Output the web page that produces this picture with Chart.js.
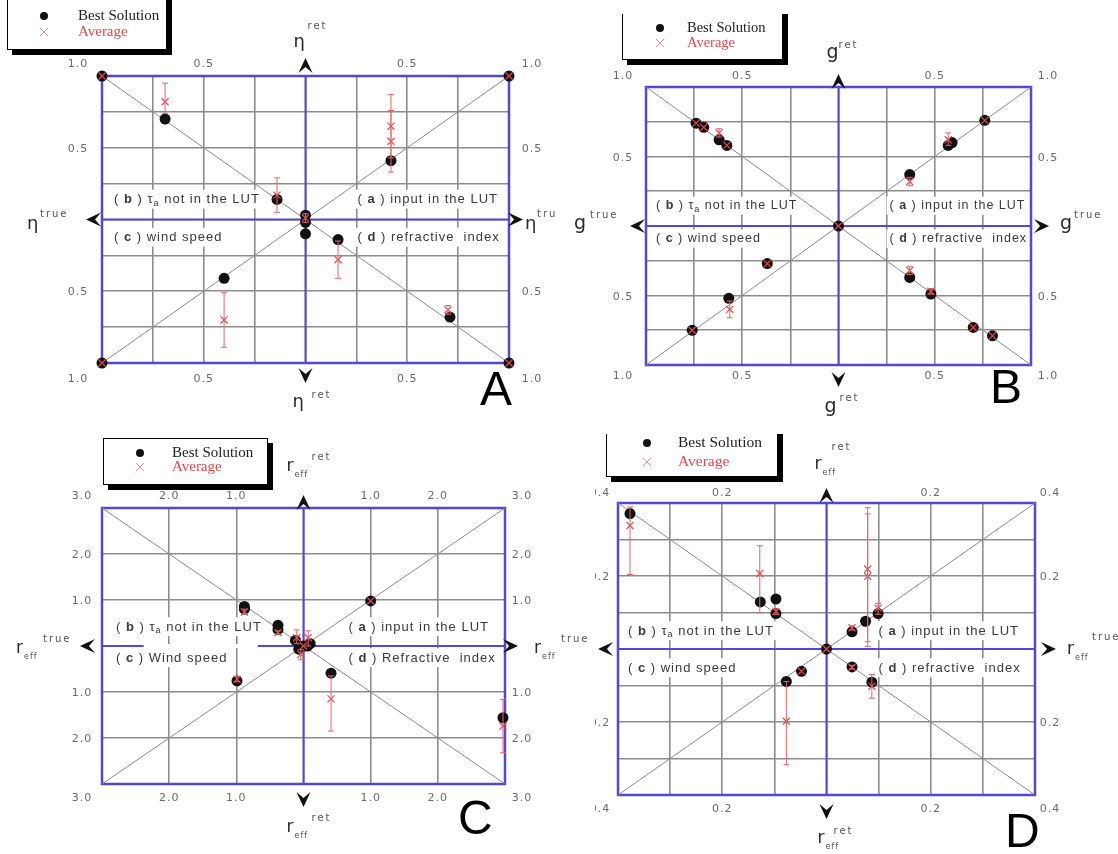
<!DOCTYPE html>
<html>
<head>
<meta charset="utf-8">
<script src="https://cdn.jsdelivr.net/npm/chart.js@4.4.1/dist/chart.umd.min.js"></script>
<style>
  body { margin: 0; background: #fff; }
  #page { position: relative; width: 1118px; height: 854px; overflow: hidden; background: #fff; }
  .panel { position: absolute; overflow: hidden; background: #fff; }
</style>
</head>
<body>
<div id="page">
  <div class="panel" style="left:0;top:0;width:556px;height:420px"><canvas id="chartA" width="556" height="420"></canvas></div>
  <div class="panel" style="left:556px;top:14px;width:562px;height:406px"><canvas id="chartB" width="562" height="406"></canvas></div>
  <div class="panel" style="left:0;top:420px;width:595px;height:434px"><canvas id="chartC" width="595" height="434"></canvas></div>
  <div class="panel" style="left:595px;top:434px;width:523px;height:420px"><canvas id="chartD" width="523" height="420"></canvas></div>
</div>
<script>
// ---------------- data ----------------
const seriesNames = ["Best Solution", "Average"];
const quadLetters = ["a", "b", "c", "d"];

// A : eta
const aTickVals = [-1, -0.5, 0.5, 1];
const aTickText = ["1.0", "0.5", "0.5", "1.0"];
const aQuadText = ["input in the LUT", "τ_a not in the LUT", "wind speed", "refractive  index"];
const aBestX = [-1, 1, -1, 1, -0.69, 0.42, -0.14, 0, 0, 0, 0.16, -0.40, 0.71];
const aBestY = [1, 1, -1, -1, 0.70, 0.41, 0.14, 0.03, -0.02, -0.10, -0.14, -0.41, -0.68];
const aAvgX = [-1, 1, -1, 1, -0.69, 0.42, 0.42, -0.14, 0, 0.16, -0.40, 0.70];
const aAvgY = [1, 1, -1, -1, 0.82, 0.65, 0.545, 0.17, 0.01, -0.28, -0.70, -0.63];
const aAvgLo = [1, 1, -1, -1, 0.74, 0.43, 0.33, 0.05, -0.02, -0.41, -0.89, -0.66];
const aAvgHi = [1, 1, -1, -1, 0.95, 0.87, 0.76, 0.29, 0.04, -0.15, -0.51, -0.60];

// B : g
const bTickVals = [-1, -0.5, 0.5, 1];
const bTickText = ["1.0", "0.5", "0.5", "1.0"];
const bQuadText = ["input in the LUT", "τ_a not in the LUT", "wind speed", "refractive  index"];
const bBestX = [-0.74, -0.70, -0.62, -0.58, 0.76, 0.57, 0.59, 0.37, 0, -0.37, -0.57, -0.76, 0.37, 0.48, 0.70, 0.80];
const bBestY = [0.74, 0.71, 0.62, 0.58, 0.76, 0.58, 0.60, 0.37, 0, -0.27, -0.52, -0.75, -0.37, -0.49, -0.73, -0.79];
const bAvgX = [-0.74, -0.70, -0.62, -0.58, 0.76, 0.57, 0.37, 0, -0.37, -0.565, -0.76, 0.37, 0.48, 0.70, 0.80];
const bAvgY = [0.74, 0.71, 0.67, 0.58, 0.76, 0.62, 0.32, 0, -0.27, -0.60, -0.75, -0.32, -0.47, -0.73, -0.79];
const bAvgLo = [0.74, 0.71, 0.64, 0.58, 0.76, 0.58, 0.29, 0, -0.27, -0.66, -0.75, -0.35, -0.49, -0.73, -0.79];
const bAvgHi = [0.74, 0.71, 0.70, 0.58, 0.76, 0.67, 0.35, 0, -0.27, -0.54, -0.75, -0.29, -0.45, -0.73, -0.79];

// C : r_eff (large)
const cTickVals = [-3, -2, -1, 1, 2, 3];
const cTickText = ["3.0", "2.0", "1.0", "1.0", "2.0", "3.0"];
const cQuadText = ["input in the LUT", "τ_a not in the LUT", "Wind speed", "Refractive  index"];
const cBestX = [-0.88, -0.88, -0.38, -0.38, -0.12, -0.07, 0, 0.06, 0.10, 1.0, -0.99, 0.41, 2.97];
const cBestY = [0.86, 0.80, 0.45, 0.36, 0.12, -0.07, 0, 0, 0.05, 0.98, -0.76, -0.59, -1.56];
const cAvgX = [-0.88, -0.38, -0.10, 0.07, -0.04, 0, -0.99, 0.41, 2.97, 1.0];
const cAvgY = [0.74, 0.29, 0.18, 0.18, -0.18, 0, -0.72, -1.15, -1.74, 0.98];
const cAvgLo = [0.70, 0.26, 0.05, 0.0, -0.30, 0, -0.78, -1.85, -2.32, 0.98];
const cAvgHi = [0.80, 0.33, 0.35, 0.33, -0.08, 0, -0.66, -0.65, -1.16, 0.98];

// D : r_eff (small)
const dTickVals = [-0.4, -0.2, 0.2, 0.4];
const dTickText = ["0.4", "0.2", "0.2", "0.4"];
const dQuadText = ["input in the LUT", "τ_a not in the LUT", "wind speed", "refractive  index"];
const dBestX = [-0.377, -0.127, -0.097, -0.097, 0.049, 0.075, 0.099, 0, -0.048, -0.077, 0.049, 0.087];
const dBestY = [0.371, 0.129, 0.137, 0.097, 0.047, 0.076, 0.097, 0, -0.061, -0.089, -0.049, -0.091];
const dAvgX = [-0.377, -0.128, -0.097, 0.079, 0.079, 0.099, 0.049, -0.077, 0.087, 0.049, -0.048, 0];
const dAvgY = [0.338, 0.207, 0.103, 0.219, 0.199, 0.112, 0.058, -0.198, -0.102, -0.05, -0.061, 0];
const dAvgLo = [0.204, 0.099, 0.095, 0.02, 0.007, 0.095, 0.052, -0.317, -0.135, -0.055, -0.061, 0];
const dAvgHi = [0.389, 0.283, 0.11, 0.37, 0.387, 0.125, 0.064, -0.089, -0.07, -0.045, -0.061, 0];

// ---------------- drawing ----------------
const BLUE = "#5646d6";
const GRID = "#8d8d8d";
const RED = "#e2484c";
const INK = "#111";

function dart(ctx, x, y, dir, len, half) {
    // x,y = tip
    const d = { up: [0, 1], down: [0, -1], left: [1, 0], right: [-1, 0] }[dir];
    const px = -d[1], py = d[0];
    ctx.beginPath();
    ctx.moveTo(x, y);
    ctx.lineTo(x + d[0] * len + px * half, y + d[1] * len + py * half);
    ctx.lineTo(x + d[0] * len * 0.6, y + d[1] * len * 0.6);
    ctx.lineTo(x + d[0] * len - px * half, y + d[1] * len - py * half);
    ctx.closePath();
    ctx.fill();
}

function quadLabel(ctx, x, y, letter, text, size) {
    const f = size + 'px "Liberation Sans"';
    const fs = Math.round(size * 0.7) + 'px "Liberation Sans"';
    const segs = [["( ", f, 0], [letter, "bold " + f, 0], [" ) ", f, 0]];
    text.split(/_(.)/).forEach((s, i) => {
        if (s) segs.push([s, i % 2 ? fs : f, i % 2 ? 4 : 0]);
    });
    ctx.letterSpacing = "1px";
    let w = 0;
    segs.forEach((s) => { ctx.font = s[1]; w += ctx.measureText(s[0]).width; });
    ctx.fillStyle = "#fff";
    ctx.fillRect(x - 3, y - size * 0.75, w + 6, size * 1.45);
    ctx.fillStyle = "#3a3a3a";
    ctx.textAlign = "left";
    ctx.textBaseline = "middle";
    let xx = x;
    segs.forEach((s) => {
        ctx.font = s[1];
        ctx.fillText(s[0], xx, y + s[2]);
        xx += ctx.measureText(s[0]).width;
    });
    ctx.letterSpacing = "0px";
}

function axisTitle(ctx, c, ax, ay, off, supText) {
    ctx.textAlign = "left";
    ctx.textBaseline = "alphabetic";
    ctx.fillStyle = "#2a2a2a";
    ctx.font = c.mainFont;
    const x = ax + off[0], y = ay + off[1];
    ctx.fillText(c.main, x, y);
    const w = ctx.measureText(c.main).width;
    ctx.fillStyle = "#555";
    if (c.sub) {
        ctx.font = '8px "DejaVu Sans"';
        ctx.letterSpacing = "1px";
        ctx.fillText(c.sub, x + w + 1, y + 6);
    }
    ctx.font = '10px "DejaVu Sans"';
    ctx.letterSpacing = "2px";
    ctx.fillText(supText, ax + off[2], ay + off[3]);
    ctx.letterSpacing = "0px";
}

function makeDeco(c) {
    return {
        id: "deco",
        beforeDatasetsDraw(chart) {
            const { ctx, chartArea: a, scales: { x, y } } = chart;
            const cx = x.getPixelForValue(0), cy = y.getPixelForValue(0);
            const q = c.quad;
            ctx.save();
            quadLabel(ctx, cx + q.rx, cy + q.top, quadLetters[0], c.quadText[0], q.size);
            quadLabel(ctx, a.left + q.lx, cy + q.top, quadLetters[1], c.quadText[1], q.size);
            quadLabel(ctx, a.left + q.lx, cy + q.bot, quadLetters[2], c.quadText[2], q.size);
            quadLabel(ctx, cx + q.rx, cy + q.bot, quadLetters[3], c.quadText[3], q.size);

            ctx.strokeStyle = BLUE;
            ctx.lineWidth = 2;
            ctx.beginPath();
            ctx.moveTo(cx, a.top); ctx.lineTo(cx, a.bottom);
            ctx.moveTo(a.left, cy); ctx.lineTo(a.right, cy);
            ctx.stroke();
            if (c.hGap) {
                const g0 = x.getPixelForValue(c.hGap[0]), g1 = x.getPixelForValue(c.hGap[1]);
                ctx.fillStyle = "#fff";
                ctx.fillRect(g0, cy - 2, g1 - g0, 4);
            }
            ctx.lineWidth = 2.5;
            ctx.strokeRect(a.left, a.top, a.right - a.left, a.bottom - a.top);
            ctx.restore();
        },
        afterDatasetsDraw(chart) {
            const { ctx, scales: { x, y } } = chart;
            const pts = chart.data.datasets[3].data;
            ctx.save();
            ctx.strokeStyle = "#e86466";
            ctx.lineWidth = 1;
            pts.forEach((p) => {
                if (Math.abs(p.hi - p.lo) < 1e-9) return;
                const px = x.getPixelForValue(p.x);
                const y0 = y.getPixelForValue(p.lo), y1 = y.getPixelForValue(p.hi);
                ctx.beginPath();
                ctx.moveTo(px, y0); ctx.lineTo(px, y1);
                ctx.moveTo(px - 3, y0); ctx.lineTo(px + 3, y0);
                ctx.moveTo(px - 3, y1); ctx.lineTo(px + 3, y1);
                ctx.stroke();
            });
            ctx.restore();
        },
        afterDraw(chart) {
            const { ctx, chartArea: a, scales: { x, y } } = chart;
            const cx = x.getPixelForValue(0), cy = y.getPixelForValue(0);
            const m = c.max;
            ctx.save();
            // arrows
            ctx.fillStyle = INK;
            const ar = c.arrows;
            dart(ctx, cx, a.top - ar[0], "up", 15, 7);
            dart(ctx, cx, a.bottom + ar[1], "down", 15, 7);
            dart(ctx, a.left - ar[2], cy, "left", 15, 7);
            dart(ctx, a.right + ar[3], cy, "right", 15, 7);

            // tick labels
            const t = c.tick;
            ctx.font = '11px "DejaVu Sans"';
            ctx.letterSpacing = "1px";
            ctx.fillStyle = "#6b6b6b";
            ctx.textAlign = "center";
            ctx.textBaseline = "alphabetic";
            c.tickVals.forEach((v, i) => {
                if (Math.abs(v) > m - 1e-9) return;
                const s = c.tickText[i];
                const px = x.getPixelForValue(v), py = y.getPixelForValue(v);
                ctx.fillText(s, px, a.top + t.top);
                ctx.fillText(s, px, a.bottom + t.bot);
                ctx.fillText(s, a.left + t.left, py + 4);
                ctx.fillText(s, a.right + t.right, py + 4);
            });
            const cs = c.tickText[c.tickText.length - 1];
            ctx.fillText(cs, a.left + t.left, a.top + t.top);
            ctx.fillText(cs, a.right + t.right, a.top + t.top);
            ctx.fillText(cs, a.left + t.left, a.bottom + t.bot);
            ctx.fillText(cs, a.right + t.right, a.bottom + t.bot);
            ctx.letterSpacing = "0px";

            // axis titles
            const ti = c.titles;
            axisTitle(ctx, c, cx, a.top, ti.top, "ret");
            axisTitle(ctx, c, cx, a.bottom, ti.bottom, "ret");
            axisTitle(ctx, c, a.left, cy, ti.left, "true");
            axisTitle(ctx, c, a.right, cy, ti.right, "true");

            // legend box
            const L = c.legend;
            ctx.fillStyle = "#000";
            ctx.fillRect(L.x + 5, L.y + 5, L.w, L.h);
            ctx.fillStyle = "#fff";
            ctx.fillRect(L.x, L.y, L.w, L.h);
            ctx.strokeStyle = "#000";
            ctx.lineWidth = 1;
            ctx.strokeRect(L.x + 0.5, L.y + 0.5, L.w - 1, L.h - 1);
            ctx.fillStyle = INK;
            ctx.beginPath();
            ctx.arc(L.mx, L.r1, 4, 0, Math.PI * 2);
            ctx.fill();
            ctx.strokeStyle = "#ef8a8a";
            ctx.beginPath();
            ctx.moveTo(L.mx - 4, L.r2 - 4); ctx.lineTo(L.mx + 4, L.r2 + 4);
            ctx.moveTo(L.mx + 4, L.r2 - 4); ctx.lineTo(L.mx - 4, L.r2 + 4);
            ctx.stroke();
            ctx.font = L.size + 'px "Liberation Serif"';
            ctx.textAlign = "left";
            ctx.textBaseline = "middle";
            ctx.fillStyle = "#222";
            ctx.fillText(seriesNames[0], L.tx, L.r1);
            ctx.fillStyle = RED;
            ctx.fillText(seriesNames[1], L.tx, L.r2);

            // panel letter
            ctx.fillStyle = "#000";
            ctx.font = '48px "Liberation Sans"';
            ctx.textBaseline = "alphabetic";
            ctx.fillText(c.letter, a.right + c.letterPos[0], a.bottom + c.letterPos[1]);
            ctx.restore();
        }
    };
}

function panel(id, c) {
    const m = c.max;
    const best = c.bestX.map((v, i) => ({ x: v, y: c.bestY[i] }));
    const avg = c.avgX.map((v, i) => ({ x: v, y: c.avgY[i], lo: c.avgLo[i], hi: c.avgHi[i] }));
    const axis = (isX) => ({
        type: "linear",
        min: -m,
        max: m,
        ticks: { display: false, stepSize: c.step },
        grid: { color: GRID, lineWidth: 1.6, drawTicks: false },
        border: { display: false },
        afterFit: (s) => { if (isX) s.height = 0; else s.width = 0; },
    });
    const diag = (pts) => ({
        data: pts, showLine: true, borderColor: "#8a8a8a", borderWidth: 1,
        pointRadius: 0, order: 3,
    });
    return new Chart(document.getElementById(id), {
        type: "scatter",
        data: {
            datasets: [
                diag([{ x: -m, y: -m }, { x: m, y: m }]),
                diag([{ x: -m, y: m }, { x: m, y: -m }]),
                {
                    label: seriesNames[0], data: best, pointStyle: "circle", pointRadius: 5.5,
                    backgroundColor: INK, borderColor: INK, borderWidth: 0, order: 2, clip: false,
                },
                {
                    label: seriesNames[1], data: avg, pointStyle: "crossRot", pointRadius: 5,
                    borderColor: RED, backgroundColor: RED, borderWidth: 1.2, order: 1, clip: false,
                },
            ],
        },
        options: {
            responsive: false,
            animation: false,
            events: [],
            layout: { padding: c.pad },
            scales: { x: axis(true), y: axis(false) },
            plugins: { legend: { display: false }, tooltip: { enabled: false } },
        },
        plugins: [makeDeco(c)],
    });
}

panel("chartA", {
    max: 1, step: 0.25, letter: "A",
    tickVals: aTickVals, tickText: aTickText, quadText: aQuadText,
    bestX: aBestX, bestY: aBestY, avgX: aAvgX, avgY: aAvgY, avgLo: aAvgLo, avgHi: aAvgHi,
    pad: { left: 102, top: 76, right: 47, bottom: 57 },
    tick: { top: -9, bot: 19, left: -24, right: 23 },
    quad: { lx: 12, rx: 52, top: -20, bot: 18, size: 13 },
    main: "η", sub: "", mainFont: '18px "DejaVu Sans"',
    titles: { top: [-12, -29, 2, -47], bottom: [-13, 44, 6, 35], left: [-75, 9, -62, -3], right: [16, 9, 28, -3] },
    arrows: [18, 20, 16, 14],
    legend: { x: 7, y: -10, w: 160, h: 60, mx: 44, tx: 78, r1: 16, r2: 32, size: 15 },
    letterPos: [-29, 42],
});

panel("chartB", {
    max: 1, step: 0.25, letter: "B",
    tickVals: bTickVals, tickText: bTickText, quadText: bQuadText,
    bestX: bBestX, bestY: bBestY, avgX: bAvgX, avgY: bAvgY, avgLo: bAvgLo, avgHi: bAvgHi,
    pad: { left: 90, top: 73, right: 87, bottom: 55 },
    tick: { top: -8, bot: 14, left: -23, right: 17 },
    quad: { lx: 10, rx: 51, top: -20, bot: 13, size: 12.5 },
    main: "g", sub: "", mainFont: '19px "DejaVu Sans"',
    titles: { top: [-12, -29, 0, -39], bottom: [-14, 47, 1, 36], left: [-72, 3, -56, -8], right: [29, 3, 43, -8] },
    arrows: [13, 22, 16, 18],
    legend: { x: 66, y: -10, w: 161, h: 56, mx: 104, tx: 131, r1: 14, r2: 29, size: 14.5 },
    letterPos: [-41, 38],
});

panel("chartC", {
    max: 3, step: 1, letter: "C",
    tickVals: cTickVals, tickText: cTickText, quadText: cQuadText,
    bestX: cBestX, bestY: cBestY, avgX: cAvgX, avgY: cAvgY, avgLo: cAvgLo, avgHi: cAvgHi,
    pad: { left: 102, top: 88, right: 90, bottom: 70 },
    tick: { top: -9, bot: 17, left: -20, right: 17 },
    quad: { lx: 14, rx: 45, top: -19, bot: 12, size: 13 },
    main: "r", sub: "eff", mainFont: '17px "DejaVu Sans"',
    titles: { top: [-17, -37, 8, -48], bottom: [-17, 48, 8, 37], left: [-86, 7, -59, -4], right: [29, 7, 56, -4] },
    arrows: [13, 23, 22, 13],
    legend: { x: 103, y: 18, w: 165, h: 47, mx: 140, tx: 172, r1: 33, r2: 47, size: 15 },
    letterPos: [-47, 50],
    hGap: [-2.38, -0.68],
});

panel("chartD", {
    max: 0.4, step: 0.1, letter: "D",
    tickVals: dTickVals, tickText: dTickText, quadText: dQuadText,
    bestX: dBestX, bestY: dBestY, avgX: dAvgX, avgY: dAvgY, avgLo: dAvgLo, avgHi: dAvgHi,
    pad: { left: 23, top: 69, right: 83, bottom: 59 },
    tick: { top: -7, bot: 17, left: -18, right: 15 },
    quad: { lx: 10, rx: 52, top: -18, bot: 19, size: 13 },
    main: "r", sub: "eff", mainFont: '17px "DejaVu Sans"',
    titles: { top: [-12, -34, 5, -53], bottom: [-9, 48, 7, 39], left: [-86, 5, -59, -9], right: [32, 5, 57, -9] },
    arrows: [15, 24, 20, 21],
    legend: { x: 11, y: -10, w: 172, h: 53, mx: 52, tx: 83, r1: 9, r2: 28, size: 15.5 },
    letterPos: [-30, 52],
});
</script>
</body>
</html>
